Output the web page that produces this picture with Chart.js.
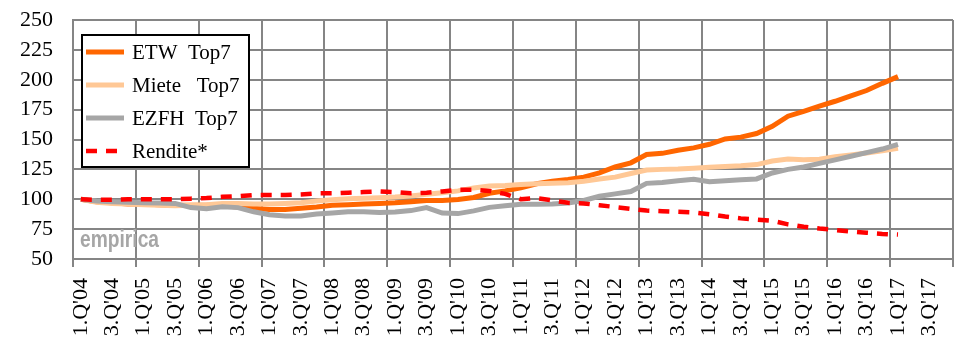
<!DOCTYPE html>
<html>
<head>
<meta charset="utf-8">
<script src="https://cdn.jsdelivr.net/npm/chart.js@4.4.1/dist/chart.umd.min.js"></script>
<style>
  html, body { margin: 0; padding: 0; background: #fff; }
  #wrap { width: 970px; height: 339px; }
</style>
</head>
<body>
<div id="wrap"><canvas id="mainChart"></canvas></div>
<script>
// Quartale 1.Q'04 bis 4.Q'17 (Daten bis 1.Q'17)
const quartale = [
  "1.Q'04","2.Q'04","3.Q'04","4.Q'04","1.Q'05","2.Q'05","3.Q'05","4.Q'05",
  "1.Q'06","2.Q'06","3.Q'06","4.Q'06","1.Q'07","2.Q'07","3.Q'07","4.Q'07",
  "1.Q'08","2.Q'08","3.Q'08","4.Q'08","1.Q'09","2.Q'09","3.Q'09","4.Q'09",
  "1.Q'10","2.Q'10","3.Q'10","4.Q'10","1.Q'11","2.Q'11","3.Q'11","4.Q'11",
  "1.Q'12","2.Q'12","3.Q'12","4.Q'12","1.Q'13","2.Q'13","3.Q'13","4.Q'13",
  "1.Q'14","2.Q'14","3.Q'14","4.Q'14","1.Q'15","2.Q'15","3.Q'15","4.Q'15",
  "1.Q'16","2.Q'16","3.Q'16","4.Q'16","1.Q'17","2.Q'17","3.Q'17","4.Q'17"
];

// Indexwerte (1.Q'04 = 100)
const etwTop7 = [
  100, 98, 97, 96, 96, 95.5, 95, 95, 95, 94.5, 93.5, 92.5, 91.5, 91.5, 92.5, 93.5,
  95, 95.5, 96, 96.5, 97, 98, 99, 99, 99.8, 101.5, 105, 107, 109.5, 113, 115, 116.5,
  118.5, 122, 127, 130.5, 137.5, 138.4, 141, 143, 146, 150.5, 152, 155, 161, 169.5, 173.5, 178,
  182, 186.5, 191, 197, 202.6
];
const mieteTop7 = [
  100, 97.5, 96.5, 96, 95.5, 95, 94.5, 95, 95.5, 96.5, 96.5, 96, 96, 96.5, 97, 98.5,
  99.5, 100.5, 100.8, 101.2, 101.8, 102.8, 104.2, 105.5, 107, 109.5, 111, 111.5, 112.3, 113, 113.3, 113.8,
  115, 117, 118.5, 121.5, 124.5, 125, 125.3, 126, 126.7, 127.5, 128, 129, 132, 133.6, 133, 133.5,
  135.5, 137, 138.7, 140.5, 142.6
];
const ezfhTop7 = [
  100, 98.5, 98, 97.5, 97, 96.8, 96.5, 93, 92, 93.8, 93, 89.5, 87, 86, 86, 87.6,
  88.5, 89.5, 89.5, 89, 89.3, 90.5, 93, 88.5, 88, 90.3, 93.2, 94.6, 95.8, 95.8, 96, 96.8,
  99, 102.5, 104.5, 106.5, 113.3, 114, 115.5, 116.7, 114.7, 115.5, 116.3, 117, 122, 125, 127, 130,
  133, 136, 139, 142, 146
];
const rendite = [
  100, 99.5, 99.5, 100, 100, 100, 100, 100.5, 101, 102, 102.5, 103.5, 103.5, 103.5, 104, 105,
  105, 105.5, 106, 106.5, 106, 105, 105.5, 106.5, 108, 108, 107, 104.5, 100, 101, 99, 97,
  96.5, 95, 93.5, 92, 90.5, 90, 89.5, 89, 87.5, 85.5, 84, 83, 82, 79, 77, 75.5,
  74.3, 73, 72, 71, 70.4
];
const yTicks = [50, 75, 100, 125, 150, 175, 200, 225, 250];

const gridGrau = '#858585';
const serif = '"Liberation Serif", "Times New Roman", serif';

// Achsen mit fester Größe, ohne zusätzlichen Randausgleich für die Beschriftung
function fixAxis(size) {
  return s => {
    if (s.isHorizontal()) s.height = size; else s.width = size;
    s.paddingTop = s.paddingBottom = s.paddingLeft = s.paddingRight = 0;
  };
}

// Legende mit Rahmen innerhalb der Zeichenfläche + Schriftzug
const legendBox = {
  id: 'legendBox',
  afterDraw(chart) {
    const ctx = chart.ctx;
    ctx.save();
    ctx.fillStyle = '#fff';
    ctx.fillRect(82, 35, 167, 132);
    ctx.strokeStyle = '#000';
    ctx.lineWidth = 2;
    ctx.strokeRect(82, 35, 167, 132);

    ctx.font = '21px ' + serif;
    ctx.textBaseline = 'middle';
    ctx.fillStyle = '#000';
    chart.data.datasets.forEach((ds, i) => {
      const y = 52 + i * 33;
      ctx.beginPath();
      ctx.strokeStyle = ds.borderColor;
      ctx.lineWidth = ds.borderWidth;
      ctx.setLineDash(ds.borderDash || []);
      ctx.moveTo(86, y);
      ctx.lineTo(124, y);
      ctx.stroke();
      ctx.setLineDash([]);
      ctx.fillText(ds.label, 132, y + 1);
    });

    // empirica
    ctx.font = 'bold 24px "Liberation Sans", Arial, sans-serif';
    ctx.fillStyle = '#a6a6a6';
    ctx.textBaseline = 'alphabetic';
    const w = ctx.measureText('empirica').width;
    ctx.translate(80, 247);
    ctx.scale(79 / w, 1);
    ctx.fillText('empirica', 0, 0);
    ctx.restore();
  }
};

const ctx = document.getElementById('mainChart').getContext('2d');
new Chart(ctx, {
  type: 'line',
  data: {
    labels: quartale,
    datasets: [
      { label: 'ETW  Top7', data: etwTop7, borderColor: '#ff6600', borderWidth: 5, order: 3 },
      { label: 'Miete   Top7', data: mieteTop7, borderColor: '#ffc896', borderWidth: 5, order: 2 },
      { label: 'EZFH  Top7', data: ezfhTop7, borderColor: '#a6a6a6', borderWidth: 5, order: 1 },
      { label: 'Rendite*', data: rendite, borderColor: '#ff0000', borderWidth: 4.5, borderDash: [11, 9], order: 0 }
    ]
  },
  options: {
    responsive: true,
    maintainAspectRatio: false,
    animation: false,
    layout: { autoPadding: false, padding: { left: 0, right: 17, top: 20, bottom: 0 } },
    elements: {
      point: { radius: 0 },
      line: { tension: 0, fill: false, borderCapStyle: 'butt' }
    },
    scales: {
      x: {
        type: 'category',
        offset: true,
        grid: {
          offset: true,
          lineWidth: 2,
          tickLength: 8,
          color: c => (c.index === undefined || c.index % 4 === 0) ? gridGrau : 'rgba(0,0,0,0)'
        },
        border: { color: gridGrau, width: 2 },
        ticks: {
          autoSkip: false,
          minRotation: 90,
          maxRotation: 90,
          padding: 11,
          color: '#000',
          font: { family: serif, size: 22 },
          callback: (v, i) => i % 2 === 0 ? quartale[i] : ''
        },
        afterFit: fixAxis(80)
      },
      y: {
        min: yTicks[0],
        max: yTicks[yTicks.length - 1],
        afterBuildTicks: s => { s.ticks = yTicks.map(v => ({ value: v })); },
        grid: { color: gridGrau, lineWidth: 2, drawTicks: false },
        border: { color: gridGrau, width: 2 },
        ticks: {
          autoSkip: false,
          padding: 20,
          color: '#000',
          font: { family: serif, size: 22, lineHeight: 1 }
        },
        afterFit: fixAxis(73)
      }
    },
    plugins: {
      legend: { display: false },
      tooltip: { enabled: false }
    }
  },
  plugins: [legendBox]
});
</script>
</body>
</html>
